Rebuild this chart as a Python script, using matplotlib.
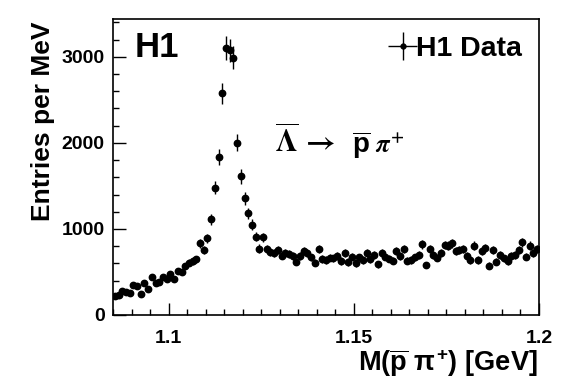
import numpy as np
import matplotlib
matplotlib.use("Agg")
from matplotlib import pyplot as plt
from matplotlib.ticker import MultipleLocator

# 1 MeV bins from 1.085 to 1.2 GeV
BIN_LO = 1.085
BIN_W = 0.001

entries = [221, 229, 283, 272, 260, 349, 341, 240, 368, 306,
           438, 376, 384, 446, 422, 477, 422, 515, 500, 570,
           608, 628, 647, 833, 756, 891, 1112, 1480, 1837, 2578,
           3101, 3074, 2992, 2004, 1612, 1357, 1182, 1050, 911, 771,
           903, 767, 736, 725, 756, 690, 717, 709, 686, 620,
           686, 744, 725, 671, 608, 764, 651, 640, 667, 659,
           686, 628, 717, 616, 678, 601, 671, 640, 725, 647,
           698, 590, 717, 678, 655, 632, 748, 686, 764, 632,
           640, 671, 698, 822, 581, 764, 698, 667, 717, 814,
           806, 834, 744, 756, 767, 690, 640, 806, 640, 744,
           775, 573, 756, 620, 698, 659, 628, 686, 698, 756,
           845, 678, 806, 717, 767]
entries = np.array(entries, dtype=float)
mass = BIN_LO + BIN_W * (np.arange(len(entries)) + 0.5)
errors = 45.0 * (entries / 700.0) ** 0.76

plt.rcParams["font.family"] = ["Liberation Sans", "DejaVu Sans"]
plt.rcParams["font.weight"] = "bold"
plt.rcParams["mathtext.fontset"] = "custom"
plt.rcParams["mathtext.rm"] = "Liberation Sans:bold"
plt.rcParams["mathtext.bf"] = "Liberation Sans:bold"
plt.rcParams["mathtext.it"] = "Liberation Sans:bold"

fig = plt.figure(figsize=(5.67, 3.84), dpi=100)
ax = fig.add_axes([0.1993, 0.1797, 0.7513, 0.7708])

ax.errorbar(mass, entries, yerr=errors, fmt="o", color="black",
            markersize=4.6, elinewidth=1.0, capsize=0)
# legend entry drawn ROOT-style, cross with a dot
proxy = ax.errorbar([np.nan], [np.nan], xerr=[1], yerr=[1], fmt="o",
                    color="black", markersize=3.5, elinewidth=1.0, capsize=0)

ax.set_xlim(1.085, 1.2)
ax.set_ylim(0, 3440)
ax.xaxis.set_major_locator(MultipleLocator(0.05))
ax.xaxis.set_minor_locator(MultipleLocator(0.005))
ax.yaxis.set_major_locator(MultipleLocator(1000))
ax.yaxis.set_minor_locator(MultipleLocator(200))
ax.set_xticks([1.1, 1.15, 1.2])
ax.set_xticklabels(["1.1", "1.15", "1.2"])
ax.tick_params(which="both", direction="in", top=False, right=False,
               labelsize=14, width=1.0)
ax.tick_params(which="major", length=9)
ax.tick_params(which="minor", length=4.5)
ax.tick_params(axis="x", pad=11)
ax.tick_params(axis="y", pad=6)
for lab in ax.get_xticklabels() + ax.get_yticklabels():
    lab.set_fontweight("bold")
for sp in ax.spines.values():
    sp.set_linewidth(1.2)

ax.set_ylabel("Entries per MeV", fontsize=19, fontweight="bold")
ax.yaxis.set_label_coords(-0.135, 0.655)
fig.text(0.948, 0.012, r"M($\overline{\mathrm{p}}$ $\pi^{+}$) [GeV]",
         ha="right", va="bottom", fontsize=19.6, fontweight="bold")

ax.text(0.05, 0.96, "H1", transform=ax.transAxes, ha="left", va="top",
        fontsize=25, fontweight="bold")

leg = ax.legend([proxy], ["H1 Data"], loc="upper right", frameon=False,
                handlelength=0.75, handletextpad=0.1,
                borderaxespad=0.2, prop={"weight": "bold", "size": 20.5})

ax.text(0.380, 0.547, r"$\overline{\Lambda}\,\rightarrow$", transform=ax.transAxes,
        ha="left", va="baseline", fontsize=22, math_fontfamily="stix",
        fontweight="normal")
ax.text(0.561, 0.547, r"$\overline{\mathrm{p}}$", transform=ax.transAxes,
        ha="left", va="baseline", fontsize=20, fontweight="bold")
ax.text(0.614, 0.547, r"$\pi^{+}$", transform=ax.transAxes,
        ha="left", va="baseline", fontsize=18, math_fontfamily="stix",
        fontweight="normal")

fig.savefig("out.png", dpi=100)
